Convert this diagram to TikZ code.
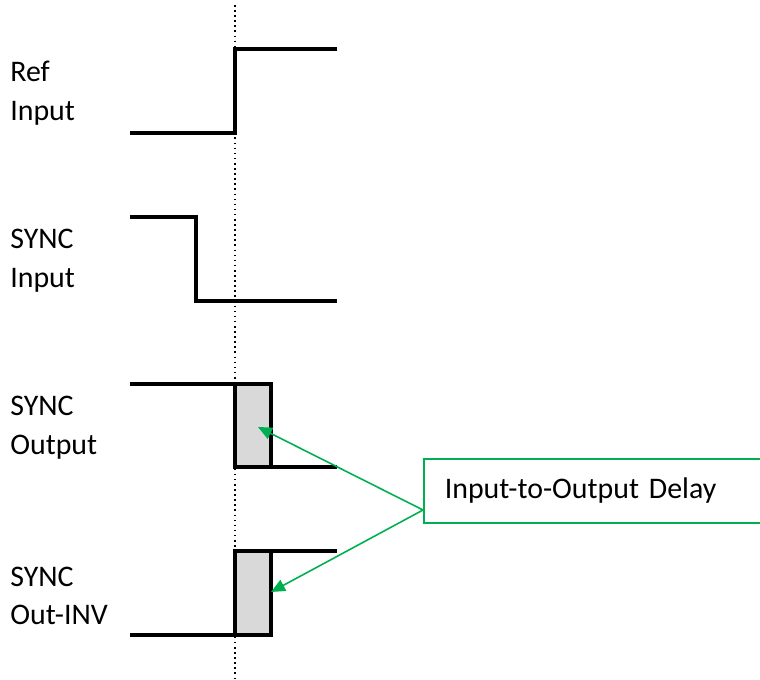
\documentclass[tikz,border=0pt]{standalone}
\usepackage{fontspec}
\setmainfont{Carlito}
\usetikzlibrary{arrows.meta}
\definecolor{callgreen}{RGB}{0,176,80}

\begin{document}
\begin{tikzpicture}[x=0.02cm, y=-0.02cm,
    signal/.style={line width=2.3pt, black, line join=miter},
    delaybox/.style={fill=gray!30},
    label/.style={anchor=west, align=left, inner sep=0pt,
        font=\fontsize{17}{22}\selectfont},
    callout/.style={draw=callgreen, line width=0.9pt, anchor=north west,
        minimum width=7.2cm, minimum height=1.28cm, text width=6.4cm,
        inner xsep=0.42cm, align=left, font=\fontsize{17}{20}\selectfont},
    pointer/.style={draw=callgreen, line width=0.9pt,
        -{Triangle[width=7pt, length=8pt]}}
]
    \clip (0,0) rectangle (760,679);
    % reference instant
    \draw[line width=0.9pt, dotted] (235,5) -- (235,679);

    % signal names
    \node[label] (ref) at (10,93) {Ref\\Input};
    \node[label] (syncin) at (10,261) {SYNC\\Input};
    \node[label] (syncout) at (10,428) {SYNC\\Output};
    \node[label] (syncinv) at (10,596) {SYNC\\Out-INV};

    % delay areas
    \fill[delaybox] (235,384) rectangle (271,467);
    \fill[delaybox] (235,551) rectangle (271,635);

    % waveforms
    \draw[signal] (130,133) -- (235,133) -- (235,49) -- (337,49);
    \draw[signal] (130,217) -- (196,217) -- (196,301) -- (337,301);
    \draw[signal] (130,384) -- (271,384) -- (271,467) -- (337,467);
    \draw[signal] (235,384) -- (235,467) -- (271,467);
    \draw[signal] (130,635) -- (271,635) -- (271,551) -- (337,551);
    \draw[signal] (235,635) -- (235,551) -- (271,551);

    % callout
    \node[callout] (delay) at (423,458) {Input-to-Output Delay};
    \coordinate (src) at (423,510);
    \coordinate (outtip) at (258,427);
    \coordinate (invtip) at (271,592);
    \draw[pointer] (src) -- (outtip);
    \draw[pointer] (src) -- (invtip);
\end{tikzpicture}
\end{document}
